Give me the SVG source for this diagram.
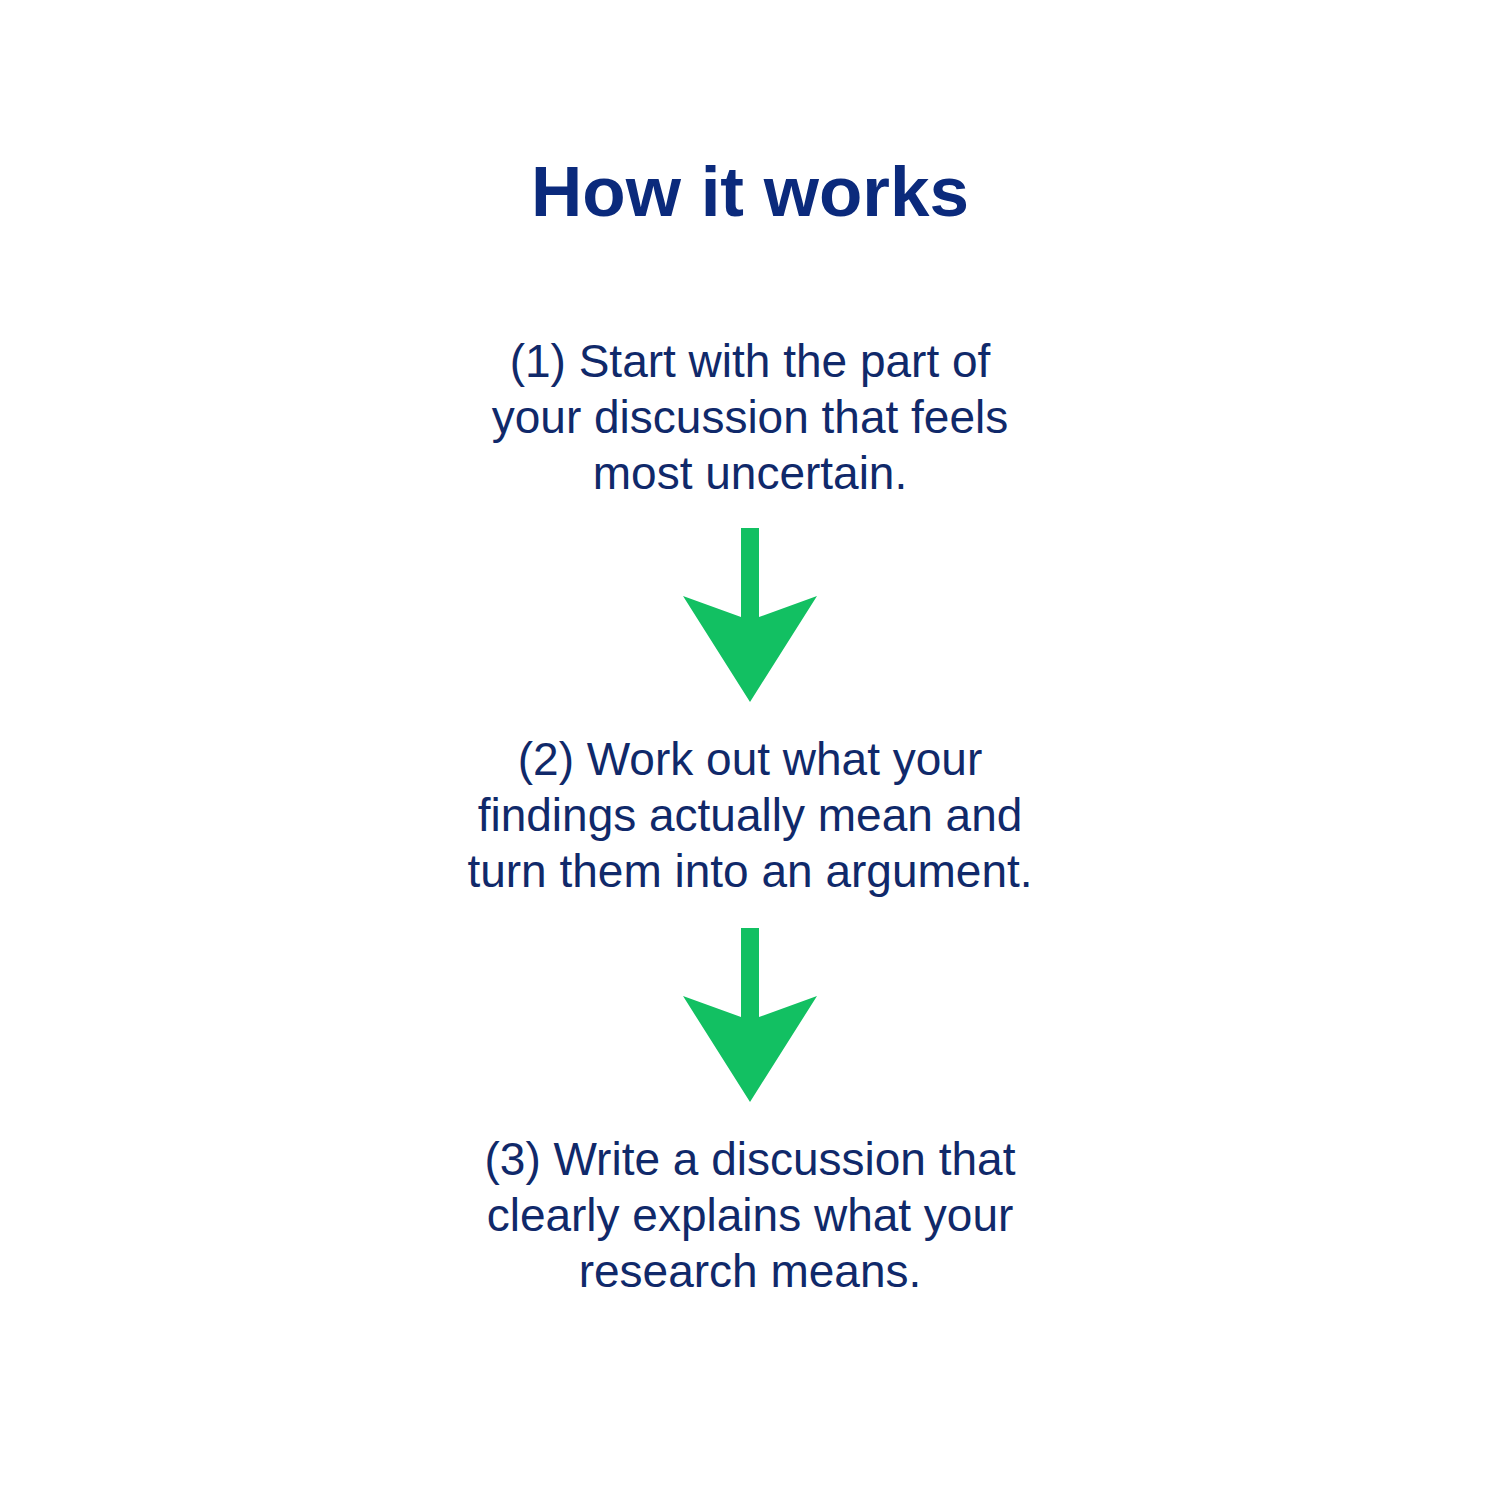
<svg xmlns="http://www.w3.org/2000/svg" width="1500" height="1500" viewBox="0 0 1500 1500">
<style>
.title{font-family:"Liberation Sans",Arial,sans-serif;font-weight:bold;font-size:71px;fill:#0b2a7c;text-anchor:middle}
.body{font-family:"Liberation Sans",Arial,sans-serif;font-size:46px;fill:#10296a;text-anchor:middle}
.arrow{fill:#12c062}
</style>
<rect width="1500" height="1500" fill="#ffffff"/>
<text class="title" x="750" y="216">How it works</text>
<g id="step1">
<text class="body" x="750" y="377">(1) Start with the part of</text>
<text class="body" x="750" y="433">your discussion that feels</text>
<text class="body" x="750" y="489">most uncertain.</text>
</g>
<g id="step2">
<text class="body" x="750" y="775">(2) Work out what your</text>
<text class="body" x="750" y="831">findings actually mean and</text>
<text class="body" x="750" y="887">turn them into an argument.</text>
</g>
<g id="step3">
<text class="body" x="750" y="1175">(3) Write a discussion that</text>
<text class="body" x="750" y="1231">clearly explains what your</text>
<text class="body" x="750" y="1287">research means.</text>
</g>
<g id="connectors">
<polygon class="arrow" points="741,528 759,528 759,617 817,596 750,702 683,596 741,617"/>
<polygon class="arrow" points="741,928 759,928 759,1017 817,996 750,1102 683,996 741,1017"/>
</g>
</svg>
